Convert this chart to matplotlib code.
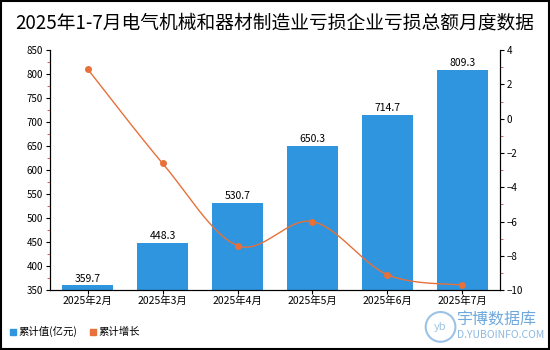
import numpy as np
import matplotlib
matplotlib.use("Agg")
import matplotlib.pyplot as plt
from matplotlib.ticker import MultipleLocator
from matplotlib.patches import Rectangle, Ellipse

plt.rcParams['font.family'] = ['Noto Sans CJK SC', 'DejaVu Sans']

# data
months = ["2025年2月", "2025年3月", "2025年4月", "2025年5月", "2025年6月", "2025年7月"]
total = [359.7, 448.3, 530.7, 650.3, 714.7, 809.3]
growth = [2.9, -2.6, -7.4, -6.0, -9.1, -9.7]

bar_color = "#2E95DE"
line_color = "#E8703A"

fig = plt.figure(figsize=(5.5, 3.5), dpi=100)
ax = fig.add_axes([0.091, 0.171, 0.818, 0.686])
x = np.arange(len(months))

ax.bar(x, total, width=0.68, color=bar_color, zorder=2)
for xi, v in zip(x, total):
    ax.text(xi, v + 4, f"{v:.1f}", ha="center", va="bottom", fontsize=7.5)

ax.set_ylim(350, 850)
ax.set_xlim(-0.5, len(months) - 0.5)
ax.yaxis.set_major_locator(MultipleLocator(50))
ax.yaxis.set_minor_locator(MultipleLocator(25))
ax.set_xticks(x)
ax.set_xticklabels(months, fontsize=7.5)
ax.tick_params(axis="y", labelsize=7, length=3, pad=2)
ax.tick_params(axis="y", which="minor", length=2, color="#E04040")
ax.tick_params(axis="x", length=3, pad=1)
ax.spines["top"].set_visible(False)

ax2 = ax.twinx()
# smooth curve through the points (cubic Hermite, only for drawing)
px = x.astype(float)
py = np.array(growth)
sx, sy = [], []
t = np.linspace(0, 1, 30)
h00 = 2*t**3 - 3*t**2 + 1; h10 = t**3 - 2*t**2 + t
h01 = -2*t**3 + 3*t**2; h11 = t**3 - t**2
for i in range(len(px) - 1):
    p0 = max(i - 1, 0); p3 = min(i + 2, len(px) - 1)
    for arr, out in ((px, sx), (py, sy)):
        a0, a1, a2, a3 = arr[p0], arr[i], arr[i + 1], arr[p3]
        m1 = (a2 - a0) / 2
        m2 = (a3 - a1) / 2
        out.extend(h00*a1 + h10*m1 + h01*a2 + h11*m2)
ax2.plot(sx, sy, color=line_color, lw=1, zorder=3)
ax2.plot(px, py, "o", color=line_color, ms=4, zorder=4)
ax2.set_ylim(-10, 4)
ax2.yaxis.set_major_locator(MultipleLocator(2))
ax2.yaxis.set_minor_locator(MultipleLocator(1))
ax2.tick_params(axis="y", labelsize=7, length=3, pad=2)
ax2.tick_params(axis="y", which="minor", length=2, color="#E04040")
ax2.spines["top"].set_visible(False)

fig.text(0.5, 0.935, "2025年1-7月电气机械和器材制造业亏损企业亏损总额月度数据",
         ha="center", va="center", fontsize=13.5)

# legend
fig.patches.append(Rectangle((0.018, 0.043), 0.011, 0.017, color=bar_color, transform=fig.transFigure))
fig.text(0.034, 0.052, "累计值(亿元)", fontsize=7.5, va="center")
fig.patches.append(Rectangle((0.163, 0.043), 0.011, 0.017, color=line_color, transform=fig.transFigure))
fig.text(0.179, 0.052, "累计增长", fontsize=7.5, va="center")

# watermark
fig.patches.append(Ellipse((0.801, 0.066), 0.054, 0.085, fill=False, ec="#9CC3E6", lw=1.5,
                           transform=fig.transFigure))
fig.text(0.801, 0.066, "yb", fontsize=8, color="#9CC3E6", ha="center", va="center", style="italic")
fig.text(0.83, 0.087, "宇博数据库", fontsize=11.5, color="#6FA8DC", va="center")
fig.text(0.83, 0.044, "D.YUBOINFO.COM", fontsize=7.5, color="#8DB8E0", va="center")

fig.patches.append(Rectangle((0.002, 0.003), 0.996, 0.994, fill=False, ec="black", lw=1.5,
                             transform=fig.transFigure))

fig.savefig("out.png", dpi=100)
